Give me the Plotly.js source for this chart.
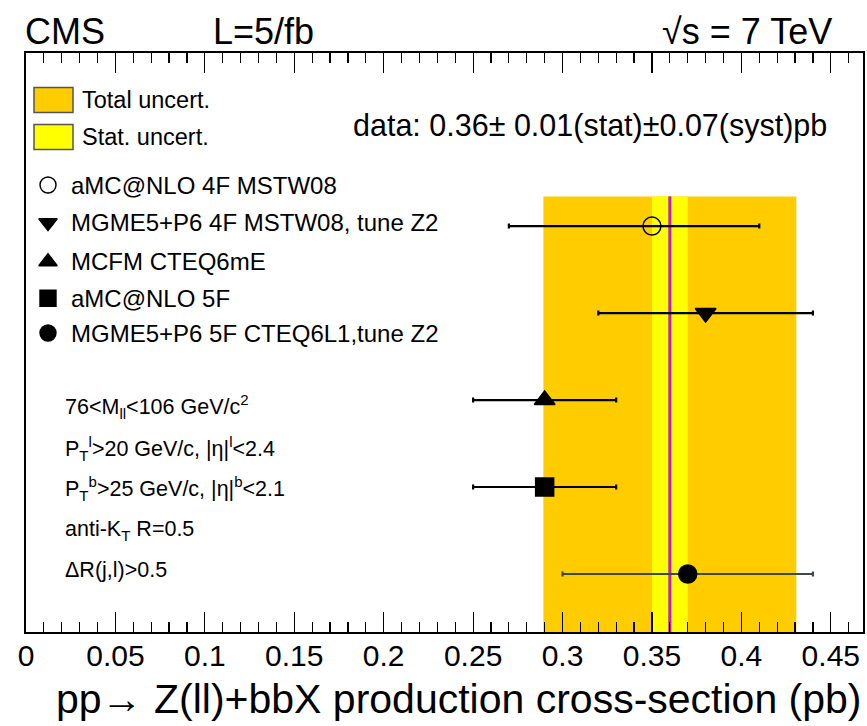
<!DOCTYPE html>
<html><head><meta charset="utf-8">
<script src="https://cdn.plot.ly/plotly-3.0.1.min.js"></script>
<style>html,body{margin:0;padding:0;background:#fff}#chart{width:867px;height:726px}</style>
</head><body><div id="chart"></div>
<script>
// ---- data ----
const models = ["aMC@NLO 4F MSTW08", "MGME5+P6 4F MSTW08, tune Z2", "MCFM CTEQ6mE", "aMC@NLO 5F", "MGME5+P6 5F CTEQ6L1,tune Z2"];
const xsec = [0.35, 0.38, 0.29, 0.29, 0.37];
const errLow = [0.08, 0.06, 0.04, 0.04, 0.07];
const errHigh = [0.06, 0.06, 0.04, 0.04, 0.07];
const symbols = ["circle-open", "triangle-down", "triangle-up", "square", "circle"];
const dataXsec = 0.36;
const dataStat = 0.01;
const dataSyst = 0.07;
const cuts = ["76&lt;M<sub>ll</sub>&lt;106 GeV/c<sup>2</sup>",
              "P<sub>T</sub><sup>l</sup>&gt;20 GeV/c, |η|<sup>l</sup>&lt;2.4",
              "P<sub>T</sub><sup>b</sup>&gt;25 GeV/c, |η|<sup>b</sup>&lt;2.1",
              "anti-K<sub>T</sub> R=0.5",
              "ΔR(j,l)&gt;0.5"];
const bandLabels = ["Total uncert.", "Stat. uncert."];
const xTitle = "pp→ Z(ll)+bbX production cross-section (pb)";

// ---- layout geometry ----
const L = 26, R = 863, T = 53, B = 632;
const fx = p => (p - L) / (R - L);
const fy = p => (B - p) / (B - T);
const FONT = "Liberation Sans, Arial, Helvetica, sans-serif";
const total = Math.sqrt(dataStat * dataStat + dataSyst * dataSyst);
const yBottom = 0, bandTop = 5.34;
const yPos = models.map((_, i) => models.length - i);
const errColors = ["black", "black", "black", "black", "#3e4a4a"];
const legendRowsPx = [185, 222.7, 261.7, 298.3, 333];
const cutRowsPx = [406.5, 448, 488.5, 530, 570];
const bandRowsPx = [100, 137];
const bandColors = ["#ffcc00", "#ffff00"];

const traces = [];
function band(halfw, color) {
  const lo = dataXsec - halfw, hi = dataXsec + halfw;
  return {x: [lo, hi, hi, lo, lo], y: [yBottom, yBottom, bandTop, bandTop, yBottom],
          mode: "lines", fill: "toself", fillcolor: color, line: {width: 0, color: color},
          hoverinfo: "skip", showlegend: false};
}
traces.push(band(total, "#ffcc00"));
traces.push(band(dataStat, "#ffff00"));
traces.push({x: [dataXsec, dataXsec], y: [yBottom, bandTop], mode: "lines",
             line: {color: "#8a2a9a", width: 3}, hoverinfo: "skip", showlegend: false});
traces.push({x: [dataXsec, dataXsec], y: [yBottom, bandTop], mode: "lines",
             line: {color: "#ff00ff", width: 1.5}, hoverinfo: "skip", showlegend: false});

models.forEach((m, i) => {
  traces.push({
    x: [xsec[i]], y: [yPos[i]], name: m, mode: "markers", showlegend: false,
    marker: {symbol: symbols[i], size: 18, color: "black", line: {color: "black", width: 1.5}},
    error_x: {type: "data", symmetric: false, array: [errHigh[i]], arrayminus: [errLow[i]],
              color: errColors[i], thickness: 2.2, width: 2.5}
  });
});

// legend markers on an overlay axis in plot-fraction units
traces.push({
  x: models.map(() => fx(48)), y: legendRowsPx.map(fy), xaxis: "x2", yaxis: "y2",
  mode: "markers", showlegend: false, hoverinfo: "skip",
  marker: {symbol: symbols, size: 16, color: "black", line: {color: "black", width: 1.4}}
});

const annotations = [];
function ann(text, xp, yp, size, anchor) {
  annotations.push({text: text, xref: "paper", yref: "paper", x: fx(xp), y: fy(yp),
    xanchor: anchor || "left", yanchor: "middle", showarrow: false,
    font: {family: FONT, size: size, color: "black"}});
}
models.forEach((m, i) => ann(m, 69, legendRowsPx[i], 24));
cuts.forEach((c, i) => ann(c, 63, cutRowsPx[i], 21.5));
bandLabels.forEach((b, i) => ann(b, 80, bandRowsPx[i], 23.5));
ann("data: " + dataXsec.toFixed(2) + "± " + dataStat.toFixed(2) + "(stat)±" + dataSyst.toFixed(2) + "(syst)pb", 351, 125, 30.5);
ann("CMS", 23, 31, 36);
ann("L=5/fb", 211, 31, 36);
ann("√s = 7 TeV", 834, 31, 36, "right");
ann(xTitle, 864, 699, 41, "right");

const shapes = bandColors.map((c, i) => ({
  type: "rect", xref: "paper", yref: "paper",
  x0: fx(34), x1: fx(73), y0: fy(bandRowsPx[i] - 12.5), y1: fy(bandRowsPx[i] + 12.5),
  fillcolor: c, line: {color: "#555", width: 1.5}
}));

const layout = {
  width: 867, height: 726,
  margin: {l: L, r: 867 - R, t: T, b: 726 - B, pad: 0},
  paper_bgcolor: "white", plot_bgcolor: "white",
  font: {family: FONT, color: "black"},
  showlegend: false,
  xaxis: {
    range: [0, 0.468], dtick: 0.05, tick0: 0, ticks: "inside", ticklen: 20, tickwidth: 1.2,
    tickcolor: "black", showline: true, linecolor: "black", linewidth: 2, mirror: "allticks",
    showgrid: false, zeroline: false, ticklabelstandoff: -4,
    minor: {dtick: 0.01, ticks: "inside", ticklen: 10, tickwidth: 1.2, tickcolor: "black", showgrid: false},
    tickfont: {family: FONT, size: 30, color: "black"}
  },
  yaxis: {
    range: [0.333, 6.99], showticklabels: false, ticks: "", showgrid: false, zeroline: false,
    showline: true, linecolor: "black", linewidth: 2, mirror: true
  },
  xaxis2: {overlaying: "x", range: [0, 1], visible: false, anchor: "y2"},
  yaxis2: {overlaying: "y", range: [0, 1], visible: false, anchor: "x2"},
  annotations: annotations,
  shapes: shapes
};

Plotly.newPlot("chart", traces, layout, {staticPlot: true, displayModeBar: false});
</script>
</body></html>
